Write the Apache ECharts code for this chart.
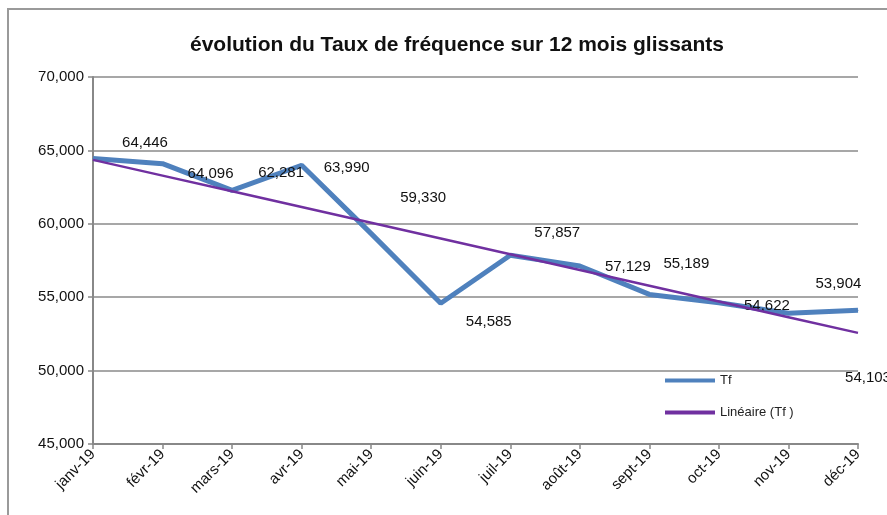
<!DOCTYPE html>
<html>
<head>
    <meta http-equiv="Content-type" content="text/html; charset=utf-8">
    <title>Taux de fréquence</title>
    <script src="https://cdn.jsdelivr.net/npm/echarts@6/dist/echarts.min.js"></script>
    <style>
        html, body { margin: 0; padding: 0; background: #fff; }
        #container { width: 887px; height: 515px; }
    </style>
</head>
<body>
<div id="container"></div>
<script type="text/javascript">
var months = ['janv-19','févr-19','mars-19','avr-19','mai-19','juin-19','juil-19','août-19','sept-19','oct-19','nov-19','déc-19'];
var tfValues = [64446, 64096, 62281, 63990, 59330, 54585, 57857, 57129, 55189, 54622, 53904, 54103];
var yTicks = [45000, 50000, 55000, 60000, 65000, 70000];

// linear trend (least squares), like Excel's "Linéaire"
var n = tfValues.length, sx = 0, sy = 0, sxy = 0, sxx = 0;
for (var i = 0; i < n; i++) {
    sx += i; sy += tfValues[i]; sxy += i * tfValues[i]; sxx += i * i;
}
var slope = (n * sxy - sx * sy) / (n * sxx - sx * sx);
var icpt = (sy - slope * sx) / n;
var trend = tfValues.map(function (v, i) { return slope * i + icpt; });

function fmt(v) {
    return String(Math.round(v)).replace(/\B(?=(\d{3})+(?!\d))/g, ',');
}

// where Excel left the labels
var offs = [[52,-16],[48,10],[49,-17],[45,3],[52,-36],[48,19],[47,-22],[48,1],[37,-31],[48,3],[50,-29],[10,67]];
var tfData = tfValues.map(function (v, i) {
    return { value: v, label: { offset: offs[i] } };
});

var dom = document.getElementById("container");
var myChart = echarts.init(dom);
var option = {
    animation: false,
    title: {
        text: 'évolution du Taux de fréquence sur 12 mois glissants',
        left: 452, top: 30, textAlign: 'center',
        textStyle: { fontFamily: 'Liberation Sans', fontSize: 21, fontWeight: 'bold', color: '#111' }
    },
    graphic: [{
        type: 'rect',
        shape: { x: 8, y: 9, width: 900, height: 520 },
        style: { fill: 'none', stroke: '#9a9a9a', lineWidth: 2 }
    }],
    legend: {
        orient: 'vertical',
        left: 660, top: 369,
        itemGap: 19,
        itemWidth: 50, itemHeight: 4,
        icon: 'rect',
        textStyle: { fontFamily: 'Liberation Sans', fontSize: 13, color: '#222' },
        data: ['Tf', 'Linéaire (Tf )']
    },
    grid: { left: 93, right: 29, top: 77, bottom: 71 },
    xAxis: {
        type: 'category',
        boundaryGap: false,
        data: months,
        axisLine: { lineStyle: { color: '#888', width: 2 } },
        axisTick: { show: true, length: 5, lineStyle: { color: '#888', width: 1.5 } },
        axisLabel: { rotate: 45, fontFamily: 'Liberation Sans', fontSize: 15, color: '#111', margin: 8 }
    },
    yAxis: {
        type: 'value',
        min: yTicks[0], max: yTicks[yTicks.length - 1], interval: 5000,
        axisLine: { show: true, lineStyle: { color: '#888', width: 2 } },
        axisTick: { show: true, length: 5, lineStyle: { color: '#888', width: 1.5 } },
        splitLine: { lineStyle: { color: '#8a8a8a', width: 1.5 } },
        axisLabel: {
            fontFamily: 'Liberation Sans', fontSize: 15, color: '#111', margin: 9,
            formatter: function (v) { return fmt(v); }
        }
    },
    series: [
        {
            name: 'Tf',
            type: 'line',
            data: tfData,
            symbol: 'circle', symbolSize: 1,
            itemStyle: { color: '#4f81bd' },
            lineStyle: { color: '#4f81bd', width: 5 },
            label: {
                show: true, position: 'inside',
                fontFamily: 'Liberation Sans', fontSize: 15, color: '#111',
                formatter: function (p) { return fmt(p.value); }
            },
            z: 3
        },
        {
            name: 'Linéaire (Tf )',
            type: 'line',
            data: trend,
            symbol: 'none',
            itemStyle: { color: '#7030a0' },
            lineStyle: { color: '#7030a0', width: 2.5 },
            z: 4
        }
    ]
};
myChart.setOption(option, true);
</script>
</body>
</html>
